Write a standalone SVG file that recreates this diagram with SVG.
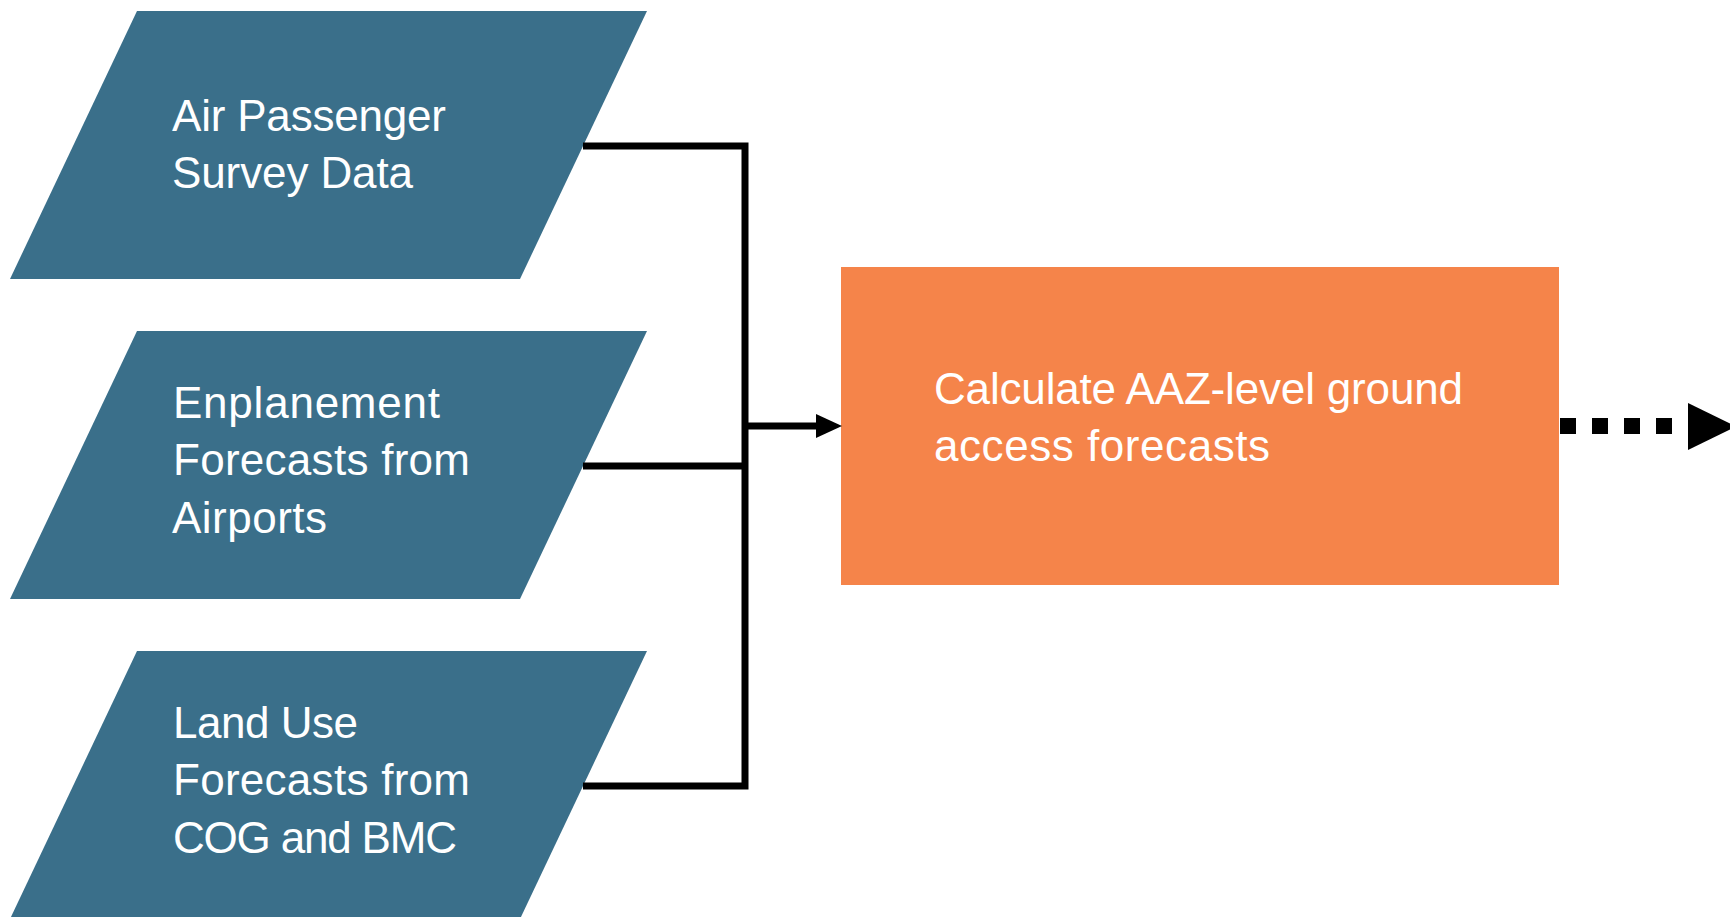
<svg xmlns="http://www.w3.org/2000/svg" width="1730" height="917" viewBox="0 0 1730 917">
  <style>
    .input { fill: #3A6F8A; }
    .process { fill: #F5844A; }
    .label { font-family: "Liberation Sans", Arial, sans-serif; font-size: 44px; fill: #FFFFFF; }
    .wire { fill: none; stroke: #000000; stroke-width: 7; stroke-linejoin: miter; }
    .dots { fill: none; stroke: #000000; stroke-width: 16; stroke-dasharray: 16 16; }
    .head { fill: #000000; }
  </style>
  <defs>
    <marker id="arrow" markerUnits="userSpaceOnUse" markerWidth="26" markerHeight="24" refX="4" refY="12" orient="auto">
      <path d="M0,0 L26,12 L0,24 Z" class="head"/>
    </marker>
  </defs>
  <rect width="1730" height="917" fill="#FFFFFF"/>

  <!-- input data sources -->
  <g id="node-air-passenger-survey">
    <polygon class="input" points="137,11 647,11 520,279 10,279"/>
    <text class="label" x="172" y="131" textLength="274">Air Passenger</text>
    <text class="label" x="172" y="188" textLength="241">Survey Data</text>
  </g>
  <g id="node-enplanement-forecasts">
    <polygon class="input" points="137,331 647,331 520,599 10,599"/>
    <text class="label" x="173" y="418" textLength="267">Enplanement</text>
    <text class="label" x="173" y="475" textLength="297">Forecasts from</text>
    <text class="label" x="172" y="533" textLength="155">Airports</text>
  </g>
  <g id="node-land-use-forecasts">
    <polygon class="input" points="137,651 647,651 520,919 10,919"/>
    <text class="label" x="173" y="738" textLength="185">Land Use</text>
    <text class="label" x="173" y="795" textLength="297">Forecasts from</text>
    <text class="label" x="173" y="853" textLength="284">COG and BMC</text>
  </g>

  <!-- processing step -->
  <g id="node-calculate-aaz">
    <rect class="process" x="841" y="267" width="718" height="318"/>
    <text class="label" x="934" y="404" textLength="529">Calculate AAZ-level ground</text>
    <text class="label" x="934" y="461" textLength="336">access forecasts</text>
  </g>

  <!-- connectors -->
  <g id="connectors">
    <polyline class="wire" points="583,146 745,146 745,786 583,786"/>
    <line class="wire" x1="583" y1="466" x2="745" y2="466"/>
    <line class="wire" x1="745" y1="426" x2="820" y2="426" marker-end="url(#arrow)"/>
    <line class="dots" x1="1560" y1="426" x2="1672" y2="426"/>
    <polygon class="head" points="1688,403 1736,426.5 1688,450"/>
  </g>
</svg>
